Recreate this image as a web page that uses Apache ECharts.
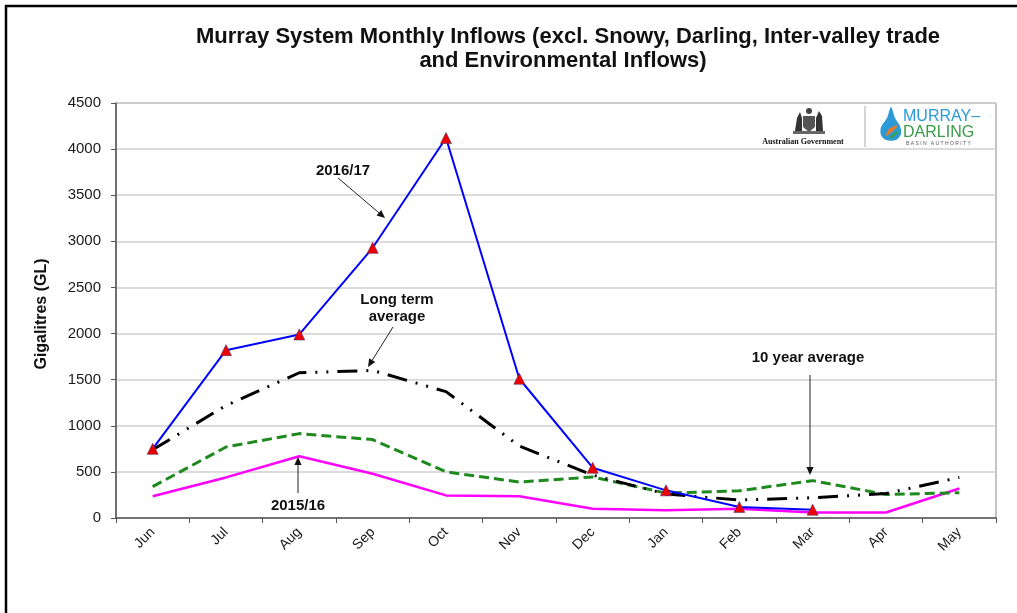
<!DOCTYPE html>
<html>
<head>
<meta charset="utf-8">
<script src="https://cdn.jsdelivr.net/npm/echarts@6/dist/echarts.min.js"></script>
<style>
html,body{margin:0;padding:0;background:#fff;}
#chart{width:1017px;height:613px;}
</style>
</head>
<body>
<div id="chart"></div>
<script>
// ---- data ----
const months = ['Jun','Jul','Aug','Sep','Oct','Nov','Dec','Jan','Feb','Mar','Apr','May'];
const inflow2016_17 = [750, 1820, 1990, 2930, 4120, 1510, 545, 300, 120, 90, null, null];
const inflow2015_16 = [235, 440, 670, 480, 245, 235, 100, 85, 100, 60, 60, 320];
const tenYearAvg = [340, 770, 915, 850, 500, 390, 445, 270, 295, 405, 255, 275];
const longTermAvg = [740, 1220, 1575, 1600, 1370, 780, 465, 260, 195, 220, 265, 440];
const yTicks = {min: 0, max: 4500, step: 500};

const FONT = '"Liberation Sans", Arial, sans-serif';
const chart = echarts.init(document.getElementById('chart'), null, {renderer: 'canvas'});

function arrow(x1, y1, x2, y2, head) {
  head = head || 8;
  const a = Math.atan2(y2 - y1, x2 - x1);
  const w = head * 0.45;
  const bx = x2 - head * Math.cos(a), by = y2 - head * Math.sin(a);
  const p1 = [bx + w * Math.sin(a), by - w * Math.cos(a)];
  const p2 = [bx - w * Math.sin(a), by + w * Math.cos(a)];
  return [
    {type: 'line', shape: {x1: x1, y1: y1, x2: bx, y2: by}, style: {stroke: '#222', lineWidth: 1}, z: 100},
    {type: 'polygon', shape: {points: [[x2, y2], p1, p2]}, style: {fill: '#111'}, z: 100}
  ];
}
function label(text, x, y, size) {
  return {type: 'text', x: x, y: y, z: 100,
    style: {text: text, font: 'bold ' + (size || 15) + 'px ' + FONT, fill: '#111', align: 'center', verticalAlign: 'middle'}};
}

const graphics = [
  // frame
  {type: 'line', shape: {x1: 5, y1: 6, x2: 1017, y2: 6}, style: {stroke: '#000', lineWidth: 2.5}},
  {type: 'line', shape: {x1: 6, y1: 5, x2: 6, y2: 613}, style: {stroke: '#000', lineWidth: 2.5}},
  // title
  {type: 'text', x: 568, y: 37, style: {text: 'Murray System Monthly Inflows (excl. Snowy, Darling, Inter-valley trade', font: 'bold 22px ' + FONT, fill: '#111', align: 'center', verticalAlign: 'middle'}},
  {type: 'text', x: 563, y: 61, style: {text: 'and Environmental Inflows)', font: 'bold 22px ' + FONT, fill: '#111', align: 'center', verticalAlign: 'middle'}},
  // y axis title
  {type: 'text', x: 42, y: 314, rotation: Math.PI / 2, style: {text: 'Gigalitres (GL)', font: 'bold 16px ' + FONT, fill: '#111', align: 'center', verticalAlign: 'middle'}},
  // annotations
  label('2016/17', 343, 171),
  ...arrow(338, 178, 385, 218),
  label('Long term', 397, 300),
  label('average', 397, 317),
  ...arrow(393, 327, 368, 367),
  label('10 year average', 808, 358),
  ...arrow(810, 375, 810, 475),
  label('2015/16', 298, 506),
  ...arrow(298, 493, 298, 457),
  // logos
  {type: 'rect', shape: {x: 760, y: 105, width: 234, height: 42}, style: {fill: '#fff'}, z: 50},
  {type: 'line', shape: {x1: 865, y1: 106, x2: 865, y2: 147}, style: {stroke: '#aaa', lineWidth: 1}, z: 51},
  // coat of arms (simplified)
  {type: 'polygon', shape: {points: [[803,116],[815,116],[815,127],[809,132],[803,127]]}, style: {fill: '#555'}, z: 51},
  {type: 'polygon', shape: {points: [[795,131],[797,118],[800,112],[802,118],[802,131]]}, style: {fill: '#333'}, z: 51},
  {type: 'polygon', shape: {points: [[816,131],[816,118],[819,111],[822,116],[823,131]]}, style: {fill: '#333'}, z: 51},
  {type: 'circle', shape: {cx: 809, cy: 111, r: 3}, style: {fill: '#444'}, z: 51},
  {type: 'rect', shape: {x: 793, y: 131, width: 32, height: 3}, style: {fill: '#666'}, z: 51},
  {type: 'text', x: 803, y: 142, z: 52, style: {text: 'Australian Government', font: 'bold 8px "Liberation Serif", serif', fill: '#111', align: 'center', verticalAlign: 'middle'}},
  // MDBA drop
  {type: 'polygon', shape: {points: [[891,107],[887,118],[881,127],[881,135],[886,140],[896,140],[901,134],[900,126],[895,118]], smooth: 0.3}, style: {fill: '#2a9bd7'}, z: 51},
  {type: 'polygon', shape: {points: [[886,136],[889,129],[898,125],[893,131]], smooth: 0.3}, style: {fill: '#ea7a2a'}, z: 52},
  {type: 'polygon', shape: {points: [[889,139],[893,134],[899,131],[895,136]], smooth: 0.3}, style: {fill: '#3aa04a'}, z: 52},
  {type: 'text', x: 903, y: 117, z: 52, style: {text: 'MURRAY–', font: '500 16px ' + FONT, fill: '#2a9bd7', align: 'left', verticalAlign: 'middle'}},
  {type: 'text', x: 903, y: 133, z: 52, style: {text: 'DARLING', font: '500 16px ' + FONT, fill: '#3a9a4a', align: 'left', verticalAlign: 'middle'}},
  {type: 'text', x: 906, y: 144, z: 52, style: {text: 'B A S I N   A U T H O R I T Y', font: '5px ' + FONT, fill: '#555', align: 'left', verticalAlign: 'middle'}}
];

const option = {
  animation: false,
  backgroundColor: '#fff',
  grid: {left: 116, right: 21, top: 103, bottom: 95, show: true, borderColor: '#888', borderWidth: 1, backgroundColor: 'transparent'},
  xAxis: {
    type: 'category', data: months, boundaryGap: true,
    axisLine: {lineStyle: {color: '#555', width: 1.5}},
    axisTick: {show: true, length: 5, lineStyle: {color: '#555'}},
    axisLabel: {rotate: 45, margin: 12, color: '#1a1a1a', fontSize: 14, fontFamily: FONT}
  },
  yAxis: {
    type: 'value', min: yTicks.min, max: yTicks.max, interval: yTicks.step,
    axisLine: {show: true, lineStyle: {color: '#555', width: 1.5}},
    axisTick: {show: true, length: 5, lineStyle: {color: '#555'}},
    axisLabel: {margin: 15, color: '#1a1a1a', fontSize: 15, fontFamily: FONT, formatter: function (v) { return String(v); }},
    splitLine: {lineStyle: {color: '#cfcfcf', width: 1.5}}
  },
  series: [
    {name: '2015/16', type: 'line', data: inflow2015_16, symbol: 'none', lineStyle: {color: '#ff00ff', width: 2.5}, z: 3},
    {name: '10 year average', type: 'line', data: tenYearAvg, symbol: 'none', lineStyle: {color: '#1e8a1e', width: 3, type: [10, 5]}, z: 4},
    {name: 'Long term average', type: 'line', data: longTermAvg, symbol: 'none', lineStyle: {color: '#000', width: 3, type: [20, 9, 2, 9, 2, 9]}, z: 5},
    {name: '2016/17', type: 'line', data: inflow2016_17, symbol: 'triangle', symbolSize: 11, showSymbol: true,
      lineStyle: {color: '#0000ff', width: 2}, itemStyle: {color: '#ee0000', borderColor: '#553366', borderWidth: 0.6}, z: 6}
  ],
  graphic: graphics
};
chart.setOption(option);
</script>
</body>
</html>
